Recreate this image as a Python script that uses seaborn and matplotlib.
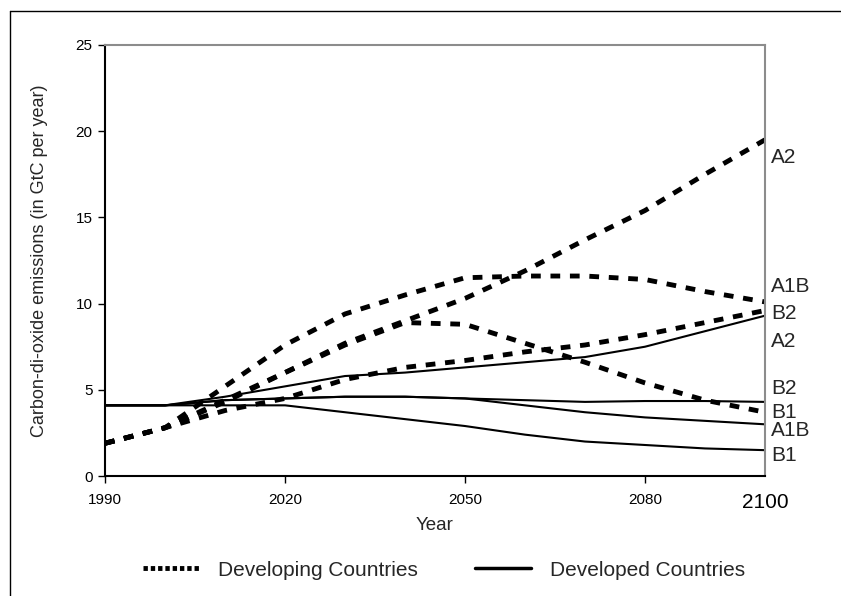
import numpy as np
import pandas as pd
import matplotlib
matplotlib.use('Agg')
import matplotlib.pyplot as plt
from matplotlib.lines import Line2D
import seaborn as sns

# data (GtC per year)
years = [1990, 2000, 2010, 2020, 2030, 2040, 2050, 2060, 2070, 2080, 2090, 2100]

dev_a1b = [1.9, 2.8, 5.2, 7.6, 9.4, 10.5, 11.5, 11.6, 11.6, 11.4, 10.7, 10.1]
dev_a2 = [1.9, 2.8, 4.4, 6.0, 7.7, 9.0, 10.3, 11.9, 13.7, 15.4, 17.5, 19.5]
dev_b1 = [1.9, 2.8, 4.3, 6.0, 7.6, 8.9, 8.8, 7.7, 6.6, 5.4, 4.4, 3.7]
dev_b2 = [1.9, 2.8, 3.8, 4.5, 5.6, 6.3, 6.7, 7.2, 7.6, 8.2, 8.9, 9.6]

ind_a2 = [4.1, 4.1, 4.6, 5.2, 5.8, 6.0, 6.3, 6.6, 6.9, 7.5, 8.4, 9.3]
ind_b2 = [4.1, 4.1, 4.4, 4.5, 4.6, 4.6, 4.5, 4.4, 4.3, 4.35, 4.35, 4.3]
ind_a1b = [4.1, 4.1, 4.4, 4.5, 4.6, 4.6, 4.5, 4.1, 3.7, 3.4, 3.2, 3.0]
ind_b1 = [4.1, 4.1, 4.1, 4.1, 3.7, 3.3, 2.9, 2.4, 2.0, 1.8, 1.6, 1.5]

end_labels = ['A2', 'A1B', 'B2', 'A2', 'B2', 'B1', 'A1B', 'B1']
end_label_y = [18.5, 11.0, 9.4, 7.8, 5.05, 3.7, 2.65, 1.2]

groups = {
    'Developing Countries': {'A1B': dev_a1b, 'A2': dev_a2, 'B1': dev_b1, 'B2': dev_b2},
    'Developed Countries': {'A1B': ind_a1b, 'A2': ind_a2, 'B1': ind_b1, 'B2': ind_b2},
}

rows = []
for grp, series in groups.items():
    for scen, vals in series.items():
        for yr, v in zip(years, vals):
            rows.append({'Year': yr, 'Emissions': v, 'Group': grp, 'Scenario': grp + scen})
df = pd.DataFrame(rows)

sns.set_style('white')
plt.rcParams['font.family'] = ['Liberation Sans', 'DejaVu Sans']

fig = plt.figure(figsize=(8.41, 5.96), dpi=100)
ax = fig.add_axes([0.1249, 0.2013, 0.7847, 0.7232])

sns.lineplot(data=df, x='Year', y='Emissions', style='Group', size='Group',
             units='Scenario', estimator=None, color='black',
             dashes={'Developing Countries': (2, 2), 'Developed Countries': ''},
             sizes={'Developing Countries': 3.5, 'Developed Countries': 1.5},
             legend=False, ax=ax)

ax.set_xlim(1990, 2100)
ax.set_ylim(0, 25)
ax.set_yticks([0, 5, 10, 15, 20, 25])
ax.set_xticks([1990, 2020, 2050, 2080, 2100])
ax.set_xticklabels(['1990', '2020', '2050', '2080', '2100'])
ax.tick_params(axis='both', direction='out', length=5, width=1, colors='black',
               labelsize=11, left=True, bottom=True, pad=4)
ax.tick_params(axis='x', pad=7)
last = ax.xaxis.get_major_ticks()[-1]
last.tick1line.set_visible(False)
last.label1.set_fontsize(15)

for side in ['left', 'bottom']:
    ax.spines[side].set_color('black')
    ax.spines[side].set_linewidth(1.5)
for side in ['top', 'right']:
    ax.spines[side].set_color('#8c8c8c')
    ax.spines[side].set_linewidth(1.5)

ax.set_xlabel('Year', fontsize=13.5, labelpad=4)
ax.set_ylabel('Carbon-di-oxide emissions (in GtC per year)', fontsize=13, labelpad=20)

for lab, yv in zip(end_labels, end_label_y):
    ax.text(2101, yv, lab, fontsize=15, ha='left', va='center', clip_on=False)

handles = [Line2D([], [], color='black', lw=3.5, linestyle=(0, (0.9, 0.6))),
           Line2D([], [], color='black', lw=2.5)]
fig.legend(handles, ['Developing Countries', 'Developed Countries'], loc='lower center',
           bbox_to_anchor=(0.528, -0.004), ncol=2, frameon=False, fontsize=15,
           handlelength=2.7, handletextpad=0.9, columnspacing=2.7)

# outer frame of the original figure
fig.add_artist(Line2D([10 / 841, 10 / 841], [0, 1 - 11 / 596], transform=fig.transFigure,
                      color='black', lw=1))
fig.add_artist(Line2D([10 / 841, 1], [1 - 11 / 596, 1 - 11 / 596], transform=fig.transFigure,
                      color='black', lw=1))

fig.savefig('out.png', dpi=100)
